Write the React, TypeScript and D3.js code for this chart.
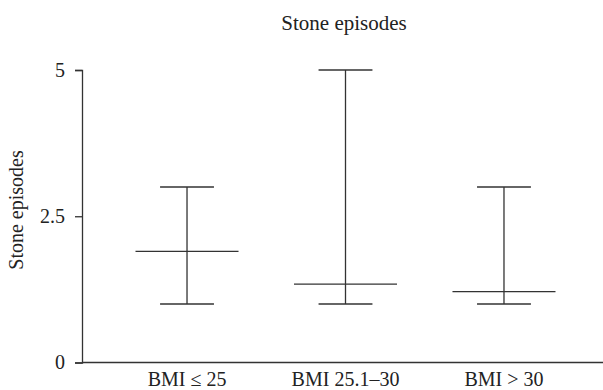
import React, { useEffect, useRef } from 'react';
import * as d3 from 'd3';

const categories = ['BMI \u2264 25', 'BMI 25.1\u201330', 'BMI > 30'];
const minValues = [1, 1, 1];
const maxValues = [3, 5, 3];
const meanValues = [1.9, 1.34, 1.21];
const yTicks = [0, 2.5, 5];

const W = 603;
const H = 390;
const FONT = '"Liberation Serif", "Times New Roman", serif';

const App = () => {
    const ref = useRef<SVGSVGElement>(null);

    useEffect(() => {
        const svg = d3.select(ref.current);
        svg.selectAll('*').remove();

        const left = 82;
        const top = 70;
        const bottom = 362.5;

        const x = d3.scalePoint<string>()
            .domain(categories)
            .range([left + 2, W + 4])
            .padding(0.65);

        const y = d3.scaleLinear()
            .domain([0, 5])
            .range([bottom, top]);

        const step = x.step();
        const capW = step * 0.34;
        const meanW = step * 0.65;
        const stroke = '#333';

        // axes
        const yAxis = svg.append('g')
            .attr('transform', `translate(${left},0)`)
            .call(d3.axisLeft(y).tickValues(yTicks).tickSize(7).tickPadding(10)
                .tickFormat(d => String(d)));
        yAxis.select('.domain').attr('stroke', stroke).attr('stroke-width', 1.3);
        yAxis.selectAll('.tick line').attr('stroke', stroke).attr('stroke-width', 1.3);
        yAxis.selectAll('.tick text')
            .attr('font-family', FONT)
            .attr('font-size', 20)
            .attr('fill', '#222');

        svg.append('line')
            .attr('x1', left).attr('x2', W)
            .attr('y1', y(0)).attr('y2', y(0))
            .attr('stroke', stroke).attr('stroke-width', 1.3);

        svg.selectAll('.cat')
            .data(categories)
            .enter().append('text')
            .attr('class', 'cat')
            .attr('x', d => x(d)!)
            .attr('y', 386)
            .attr('text-anchor', 'middle')
            .attr('font-family', FONT)
            .attr('font-size', 20)
            .attr('fill', '#222')
            .text(d => d);

        // whiskers: min-max range with a wider mean line
        const g = svg.selectAll('.grp')
            .data(categories)
            .enter().append('g')
            .attr('class', 'grp')
            .attr('stroke', stroke)
            .attr('stroke-width', 1.3);

        g.append('line')
            .attr('x1', d => x(d)!).attr('x2', d => x(d)!)
            .attr('y1', (d, i) => y(minValues[i]))
            .attr('y2', (d, i) => y(maxValues[i]));
        g.append('line')
            .attr('x1', d => x(d)! - capW / 2).attr('x2', d => x(d)! + capW / 2)
            .attr('y1', (d, i) => y(maxValues[i]))
            .attr('y2', (d, i) => y(maxValues[i]));
        g.append('line')
            .attr('x1', d => x(d)! - capW / 2).attr('x2', d => x(d)! + capW / 2)
            .attr('y1', (d, i) => y(minValues[i]))
            .attr('y2', (d, i) => y(minValues[i]));
        g.append('line')
            .attr('x1', d => x(d)! - meanW / 2).attr('x2', d => x(d)! + meanW / 2)
            .attr('y1', (d, i) => y(meanValues[i]))
            .attr('y2', (d, i) => y(meanValues[i]));

        svg.append('text')
            .attr('transform', `translate(23,210) rotate(-90)`)
            .attr('text-anchor', 'middle')
            .attr('font-family', FONT)
            .attr('font-size', 20)
            .attr('fill', '#222')
            .text('Stone episodes');

        svg.append('text')
            .attr('x', 344)
            .attr('y', 30)
            .attr('text-anchor', 'middle')
            .attr('font-family', FONT)
            .attr('font-size', 21)
            .attr('fill', '#222')
            .text('Stone episodes');
    }, []);

    return (
        <svg ref={ref} width={W} height={H}
            style={{ position: 'absolute', left: 0, top: 0, background: '#fff' }} />
    );
};

export default App;
